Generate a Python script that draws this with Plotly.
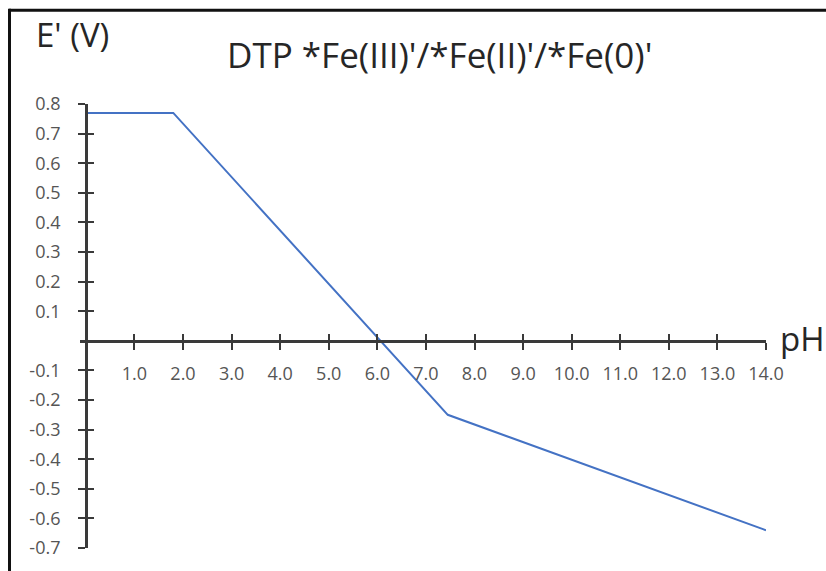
import plotly.graph_objects as go

# ---- data ----
ph_values = [0.0, 1.8, 7.45, 14.0]
e_values = [0.77, 0.77, -0.25, -0.64]

x_tick_vals = [1, 2, 3, 4, 5, 6, 7, 8, 9, 10, 11, 12, 13, 14]
x_tick_labels = ["1.0", "2.0", "3.0", "4.0", "5.0", "6.0", "7.0", "8.0", "9.0",
                 "10.0", "11.0", "12.0", "13.0", "14.0"]
y_tick_vals = [0.8, 0.7, 0.6, 0.5, 0.4, 0.3, 0.2, 0.1,
               -0.1, -0.2, -0.3, -0.4, -0.5, -0.6, -0.7]
y_tick_labels = ["0.8", "0.7", "0.6", "0.5", "0.4", "0.3", "0.2", "0.1",
                 "-0.1", "-0.2", "-0.3", "-0.4", "-0.5", "-0.6", "-0.7"]

title_text = "DTP *Fe(III)'/*Fe(II)'/*Fe(0)'"
y_title = "E' (V)"
x_title = "pH"

# ---- layout params ----
W, H = 826, 571
ML, MR, MT, MB = 80, 60, 104, 19
x_range = [-0.12, 14.0]
y_range = [-0.7, 0.8]
axis_color = "#3a3a3a"
label_color = "#555555"
font_family = "Open Sans"

x_pos = (0 - x_range[0]) / (x_range[1] - x_range[0])
y_pos = (0 - y_range[0]) / (y_range[1] - y_range[0])

plot_w = W - ML - MR
plot_h = H - MT - MB


def px_x(p):
    return (p - ML) / plot_w


def px_y(p):
    return (H - MB - p) / plot_h


fig = go.Figure()
fig.add_trace(go.Scatter(x=ph_values, y=e_values, mode="lines",
                         line=dict(color="#4472C4", width=2),
                         showlegend=False, hoverinfo="skip"))
fig.add_trace(go.Scatter(x=[], y=[], xaxis="x2", yaxis="y2", showlegend=False))

common_x = dict(range=x_range, tickvals=x_tick_vals, showgrid=False, zeroline=False,
                anchor="free", position=y_pos, tickcolor=axis_color, tickwidth=2,
                ticklen=7)
common_y = dict(range=y_range, tickvals=y_tick_vals, showgrid=False, zeroline=False,
                anchor="free", position=x_pos, tickcolor=axis_color, tickwidth=2,
                ticklen=7)

fig.update_layout(
    width=W, height=H,
    margin=dict(l=ML, r=MR, t=MT, b=MB),
    paper_bgcolor="white", plot_bgcolor="white",
    xaxis=dict(**common_x, ticks="outside", ticktext=x_tick_labels,
               showline=True, linecolor=axis_color, linewidth=2.5,
               tickfont=dict(family=font_family, size=18, color=label_color),
               ticklabelstandoff=9),
    xaxis2=dict(**common_x, ticks="inside", overlaying="x", showticklabels=False,
                showline=False),
    yaxis=dict(**common_y, ticks="outside", ticktext=y_tick_labels,
               showline=True, linecolor=axis_color, linewidth=2.5,
               tickfont=dict(family=font_family, size=18, color=label_color),
               ticklabelstandoff=14),
    yaxis2=dict(**common_y, ticks="inside", overlaying="y", showticklabels=False,
                showline=False, side="left"),
    annotations=[
        dict(text=title_text, xref="paper", yref="paper",
             x=px_x(439.5), y=px_y(54),
             xanchor="center", yanchor="middle", showarrow=False,
             font=dict(family=font_family, size=35, color="#262626")),
        dict(text=y_title, xref="paper", yref="paper",
             x=px_x(34), y=px_y(34),
             xanchor="left", yanchor="middle", showarrow=False,
             font=dict(family=font_family, size=33, color="#262626")),
        dict(text=x_title, xref="x", yref="y", x=x_range[1], y=0,
             xanchor="left", yanchor="middle", xshift=12, yshift=2, showarrow=False,
             font=dict(family=font_family, size=33, color="#262626")),
    ],
    shapes=[
        dict(type="line", xref="paper", yref="paper",
             x0=px_x(9), x1=px_x(W + 5), y0=px_y(9.5), y1=px_y(9.5),
             line=dict(color="#111111", width=3)),
        dict(type="line", xref="paper", yref="paper",
             x0=px_x(9.5), x1=px_x(9.5), y0=px_y(8), y1=px_y(H + 5),
             line=dict(color="#111111", width=3)),
    ],
)

fig.write_html("out.html", config={"displayModeBar": False},
               post_script="document.body.style.margin='0px';")
